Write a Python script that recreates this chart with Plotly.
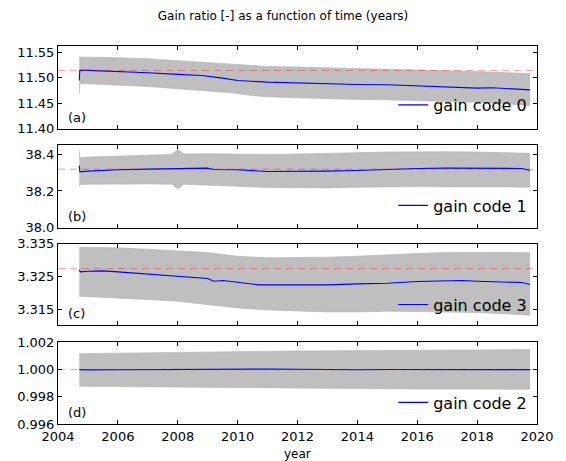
import plotly.graph_objects as go

# ---------------- data ----------------
x_limits = [2004, 2020]

# Panel (a) gain code 0
t_a = [2004.71, 2004.73, 2005, 2006, 2007, 2008, 2008.8, 2009.5, 2010, 2011, 2012, 2013,
       2014, 2015, 2016, 2017, 2018, 2018.5, 2019, 2019.77]
mean_a = [11.4947, 11.5145, 11.5145, 11.5125, 11.5100, 11.5066, 11.5045, 11.4993, 11.4947,
          11.4914, 11.4895, 11.4882, 11.4868, 11.4862, 11.4842, 11.4829, 11.4796, 11.4803,
          11.4783, 11.4763]
tb_a = [2004.71, 2004.73, 2005, 2006, 2007, 2008, 2009, 2009.8, 2010.5, 2011, 2012, 2013,
        2014, 2015, 2016, 2017, 2018, 2019, 2019.77]
up_a = [11.5408, 11.5408, 11.5408, 11.5395, 11.5375, 11.5336, 11.5289, 11.5257, 11.5230,
        11.5224, 11.5210, 11.5197, 11.5190, 11.5178, 11.5158, 11.5151, 11.5125, 11.5099, 11.5079]
lo_a = [11.4684, 11.4882, 11.4882, 11.4862, 11.4829, 11.4783, 11.4737, 11.4704, 11.4650,
        11.4625, 11.4605, 11.4586, 11.4572, 11.4566, 11.4553, 11.4539, 11.4520, 11.4487, 11.4454]

# Panel (b) gain code 1
t_b = [2004.71, 2004.73, 2005, 2005.5, 2006, 2007, 2008, 2009, 2009.2, 2010, 2011, 2012,
       2013, 2014, 2015, 2016, 2017, 2018, 2019, 2019.5, 2019.77]
mean_b = [38.3394, 38.3046, 38.3083, 38.3138, 38.3156, 38.3193, 38.3229, 38.3248, 38.3174,
          38.3156, 38.3064, 38.3064, 38.3083, 38.3119, 38.3193, 38.3229, 38.3248, 38.3229,
          38.3211, 38.3229, 38.3119]
tb_b = [2004.71, 2004.73, 2005, 2006, 2007, 2007.8, 2008, 2008.2, 2009, 2010, 2011, 2012,
        2013, 2014, 2015, 2016, 2017, 2018, 2019, 2019.77]
up_b = [38.4239, 38.3817, 38.3853, 38.3908, 38.3963, 38.4000, 38.4275, 38.4018, 38.4037,
        38.4000, 38.4000, 38.4018, 38.4037, 38.4092, 38.4128, 38.4147, 38.4147, 38.4128,
        38.4092, 38.4055]
lo_b = [38.2257, 38.2349, 38.2367, 38.2385, 38.2385, 38.2367, 38.2110, 38.2367, 38.2330,
        38.2257, 38.2183, 38.2165, 38.2165, 38.2202, 38.2239, 38.2239, 38.2220, 38.2239,
        38.2220, 38.2202]

# Panel (c) gain code 3
t_c = [2004.71, 2004.75, 2005, 2005.5, 2006, 2007, 2008, 2009, 2009.2, 2009.5, 2010, 2010.7,
       2011, 2012, 2013, 2014, 2015, 2016, 2017, 2017.5, 2018, 2019, 2019.5, 2019.77]
mean_c = [3.32712, 3.32652, 3.32672, 3.32682, 3.32652, 3.32591, 3.32520, 3.32449, 3.32369,
          3.32389, 3.32338, 3.32258, 3.32258, 3.32247, 3.32258, 3.32288, 3.32308, 3.32359,
          3.32369, 3.32389, 3.32369, 3.32348, 3.32328, 3.32268]
tb_c = [2004.71, 2005, 2006, 2007, 2008, 2009, 2009.5, 2010, 2011, 2012, 2013, 2014, 2015,
        2016, 2017, 2018, 2019, 2019.77]
up_c = [3.33399, 3.33399, 3.33379, 3.33338, 3.33298, 3.33237, 3.33177, 3.33126, 3.33076,
        3.33076, 3.33096, 3.33126, 3.33177, 3.33207, 3.33237, 3.33247, 3.33247, 3.33227]
lo_c = [3.31914, 3.31904, 3.31864, 3.31813, 3.31763, 3.31662, 3.31612, 3.31561, 3.31500,
        3.31460, 3.31440, 3.31440, 3.31460, 3.31450, 3.31440, 3.31419, 3.31379, 3.31338]

# Panel (d) gain code 2
t_d = [2004.71, 2005, 2006, 2007, 2008, 2009, 2010, 2011, 2012, 2013, 2014, 2015, 2016,
       2017, 2018, 2019, 2019.77]
mean_d = [1.00000, 0.99998, 0.99999, 1.00001, 0.99999, 1.00000, 1.00002, 1.00004, 1.00003,
          1.00000, 0.99999, 1.00001, 1.00000, 1.00002, 0.99999, 1.00002, 1.00000]
tb_d = [2004.71, 2006, 2008, 2010, 2012, 2014, 2016, 2018, 2019.77]
up_d = [1.001175, 1.001225, 1.001275, 1.001325, 1.001375, 1.001400, 1.001425, 1.001450, 1.001475]
lo_d = [0.998775, 0.998750, 0.998725, 0.998675, 0.998625, 0.998600, 0.998575, 0.998575, 0.998550]

ref_values = [11.5145, 38.319, 3.3275, 1.0]
panel_labels = ["(a)", "(b)", "(c)", "(d)"]
legend_names = ["gain code 0", "gain code 1", "gain code 3", "gain code 2"]
y_ranges = [[11.40, 11.5625], [38.0, 38.45], [3.3105, 3.335], [0.996, 1.002]]
y_ticks = [[11.40, 11.45, 11.50, 11.55], [38.0, 38.2, 38.4],
           [3.315, 3.325, 3.335], [0.996, 0.998, 1.000, 1.002]]
y_ticktext = [["11.40", "11.45", "11.50", "11.55"], ["38.0", "38.2", "38.4"],
              ["3.315", "3.325", "3.335"], ["0.996", "0.998", "1.000", "1.002"]]
x_ticks = [2004, 2006, 2008, 2010, 2012, 2014, 2016, 2018, 2020]

panels = [
    (t_a, mean_a, tb_a, up_a, lo_a),
    (t_b, mean_b, tb_b, up_b, lo_b),
    (t_c, mean_c, tb_c, up_c, lo_c),
    (t_d, mean_d, tb_d, up_d, lo_d),
]

# ---------------- figure ----------------
FONT = "DejaVu Sans"
domains = [[0.7814, 1.0], [0.5197, 0.7375], [0.2625, 0.4766], [0.0, 0.2157]]
legend_y = [0.844, 0.578, 0.316, 0.057]
legend_keys = ["legend", "legend2", "legend3", "legend4"]
BLUE = "rgb(0,0,255)"


def axes_of(i):
    return ("x" if i == 0 else f"x{i+1}"), ("y" if i == 0 else f"y{i+1}")


fig = go.Figure()

# grey bands
for i, (t, m, tb, up, lo) in enumerate(panels):
    xa, ya = axes_of(i)
    fig.add_trace(go.Scatter(x=tb, y=lo, mode="lines",
                             line=dict(width=0.6, color="rgb(178,178,178)"),
                             xaxis=xa, yaxis=ya, showlegend=False, hoverinfo="skip"))
    fig.add_trace(go.Scatter(x=tb, y=up, mode="lines",
                             line=dict(width=0.6, color="rgb(178,178,178)"),
                             fill="tonexty", fillcolor="rgb(191,191,191)",
                             xaxis=xa, yaxis=ya, showlegend=False, hoverinfo="skip"))

# mean curves
for i, (t, m, tb, up, lo) in enumerate(panels):
    xa, ya = axes_of(i)
    fig.add_trace(go.Scatter(x=t, y=m, mode="lines", line=dict(width=1.1, color=BLUE),
                             name=legend_names[i], xaxis=xa, yaxis=ya,
                             legend=legend_keys[i], showlegend=True))

# reference dashed lines
for i in range(4):
    xa, ya = axes_of(i)
    fig.add_trace(go.Scatter(x=x_limits, y=[ref_values[i], ref_values[i]], mode="lines",
                             line=dict(color="rgba(255,0,0,0.4)", width=1, dash="7px,5px"),
                             xaxis=xa, yaxis=ya, showlegend=False, hoverinfo="skip"))
    fig.add_annotation(text=panel_labels[i], xref=f"{xa} domain", yref=f"{ya} domain",
                       x=0.016, y=0.14, xanchor="left", yanchor="middle", showarrow=False,
                       font=dict(family=FONT, size=13, color="black"))

# x-axis label
fig.add_annotation(text="year", xref="paper", yref="paper", x=0.5, y=-0.057,
                   xanchor="center", yanchor="top", showarrow=False, borderpad=0,
                   font=dict(family=FONT, size=12, color="black"))

axis_common = dict(showline=True, linecolor="black", linewidth=1, mirror="ticks",
                   ticks="inside", ticklen=4, tickcolor="black", showgrid=False,
                   zeroline=False, tickfont=dict(family=FONT, size=13, color="black"))

layout = dict(
    width=566, height=461,
    margin=dict(l=58, r=21, t=46, b=37),
    paper_bgcolor="white", plot_bgcolor="white",
    font=dict(family=FONT, size=13, color="black"),
    title=dict(text="Gain ratio [-] as a function of time (years)", x=0.5, xanchor="center",
               y=1 - 16 / 461, yanchor="middle", font=dict(family=FONT, size=12, color="black")),
)
for i in range(4):
    xa, ya = axes_of(i)
    xk = "xaxis" if i == 0 else f"xaxis{i+1}"
    yk = "yaxis" if i == 0 else f"yaxis{i+1}"
    layout[xk] = dict(axis_common, range=x_limits, tickvals=x_ticks,
                      ticktext=[str(v) for v in x_ticks], showticklabels=(i == 3),
                      anchor=ya, domain=[0, 1])
    layout[yk] = dict(axis_common, range=y_ranges[i], tickvals=y_ticks[i],
                      ticktext=y_ticktext[i], anchor=xa, domain=domains[i])
    layout[legend_keys[i]] = dict(x=0.99, y=legend_y[i], xanchor="right", yanchor="middle",
                                  bgcolor="rgba(0,0,0,0)", borderwidth=0,
                                  font=dict(family=FONT, size=16, color="black"))

fig.update_layout(**layout)
fig.write_html("out.html")
